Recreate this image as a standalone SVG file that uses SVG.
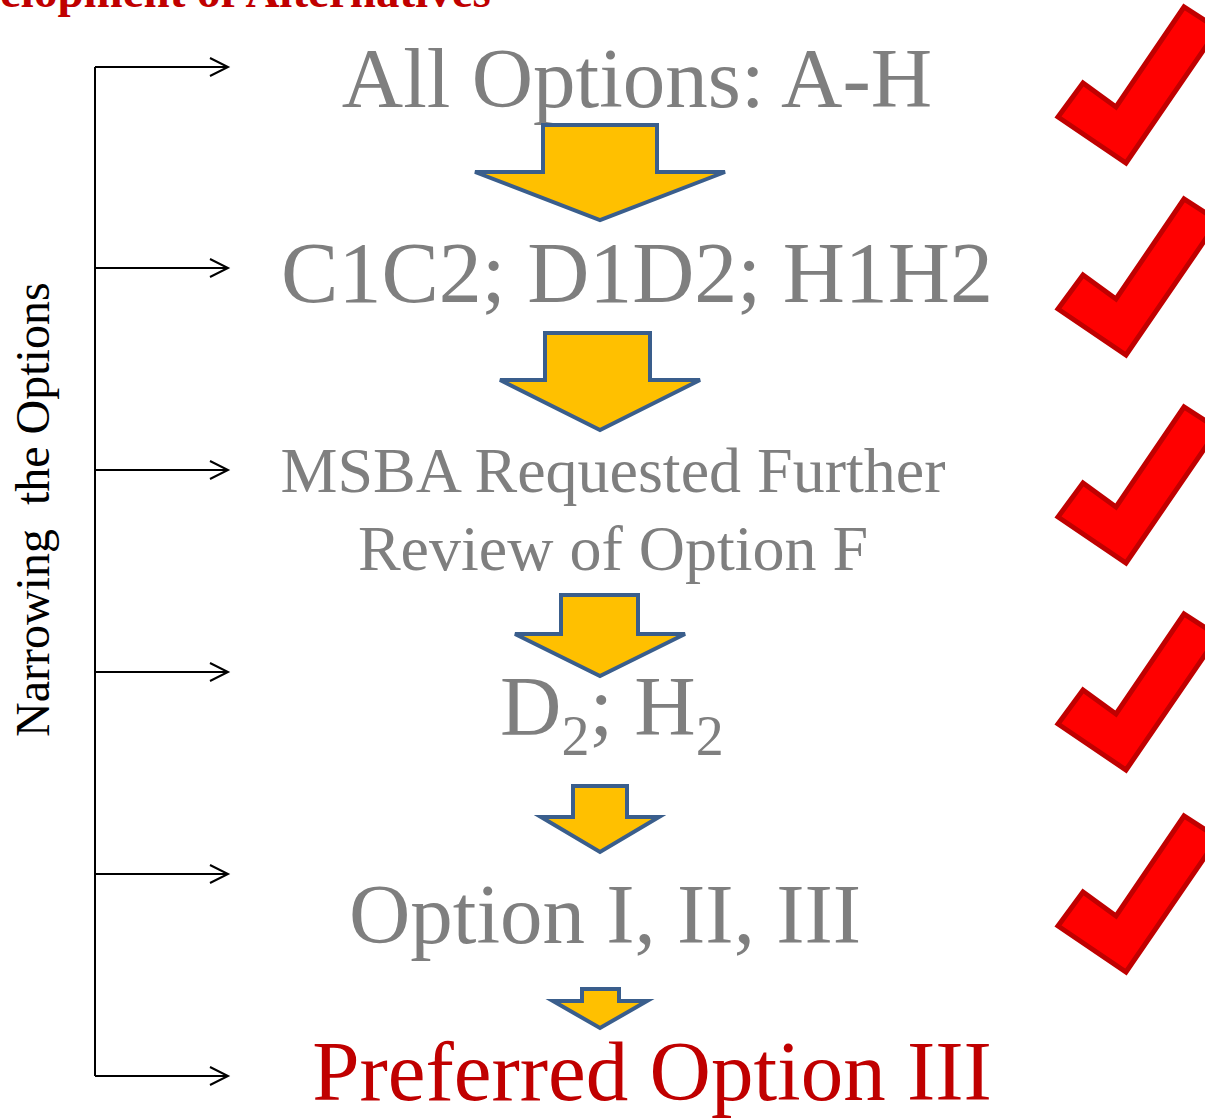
<svg xmlns="http://www.w3.org/2000/svg" width="1205" height="1118" viewBox="0 0 1205 1118">
<style>
.t{font-family:"Liberation Serif","Times New Roman",serif;fill:#7F7F7F;font-size:85px;text-anchor:middle}
.red{fill:#C00000}
.dn{fill:#FFC000;stroke:#3A5E8C;stroke-width:4;stroke-linejoin:miter}
.chk{fill:#FF0000;stroke:#C00000;stroke-width:5;stroke-linejoin:miter}
.con{stroke:#000;stroke-width:2;fill:none}
</style>
<defs>
<marker id="open" markerWidth="22" markerHeight="20" refX="19" refY="10" orient="auto" markerUnits="userSpaceOnUse">
<path d="M1,1 L19,10 L1,19" fill="none" stroke="#000" stroke-width="2"/>
</marker>
<polygon id="check" points="1058,117 1083,83 1116,107 1184,7 1218,29 1126,163"/>
</defs>
<rect width="1205" height="1118" fill="#fff"/>
<text x="0" y="7" style="font-family:'Liberation Serif','Times New Roman',serif;font-weight:bold;font-size:47px;fill:#C00000">elopment of Alternatives</text>
<text transform="translate(49,737) rotate(-90)" style="font-family:'Liberation Serif','Times New Roman',serif;font-size:48px;fill:#000;white-space:pre" xml:space="preserve">Narrowing  the Options</text>
<g id="connectors">
<path class="con" d="M95,67 V1076"/>
<path class="con" d="M95,67 H228" marker-end="url(#open)"/>
<path class="con" d="M95,268 H228" marker-end="url(#open)"/>
<path class="con" d="M95,470 H228" marker-end="url(#open)"/>
<path class="con" d="M95,672 H228" marker-end="url(#open)"/>
<path class="con" d="M95,874 H228" marker-end="url(#open)"/>
<path class="con" d="M95,1076 H228" marker-end="url(#open)"/>
</g>
<g id="n1"><text class="t" x="637" y="107">All Options: A-H</text></g>
<g id="n2"><text class="t" style="font-size:86px" x="637" y="302">C1C2; D1D2; H1H2</text></g>
<g id="n3"><text class="t" style="font-size:64px" x="613" y="492">MSBA Requested Further</text><text class="t" style="font-size:64px" x="613" y="570">Review of Option F</text></g>
<g id="n4"><text class="t" style="text-anchor:start" x="500" y="735">D<tspan font-size="56" dy="20">2</tspan><tspan dy="-20">; H</tspan><tspan font-size="56" dy="20">2</tspan></text></g>
<g id="n5"><text class="t" x="605" y="943">Option I, II, III</text></g>
<g id="n6"><text class="t red" x="652" y="1100">Preferred Option III</text></g>
<g id="arrows">
<polygon class="dn" points="543,125 657,125 657,172 725,172 600,220 475,172 543,172"/>
<polygon class="dn" points="545,333 650,333 650,380 700,380 600,430 500,380 545,380"/>
<polygon class="dn" points="561,595 638,595 638,634 685,634 600,676 515,634 561,634"/>
<polygon class="dn" points="573,786 627,786 627,817 659,817 600,852 541,817 573,817"/>
<polygon class="dn" points="582,989 619,989 619,1001 647,1001 600,1028 553,1001 582,1001"/>
</g>
<g id="checks">
<use href="#check" class="chk"/>
<use href="#check" class="chk" transform="translate(0,192)"/>
<use href="#check" class="chk" transform="translate(0,400)"/>
<use href="#check" class="chk" transform="translate(0,607)"/>
<use href="#check" class="chk" transform="translate(0,809)"/>
</g>
</svg>
